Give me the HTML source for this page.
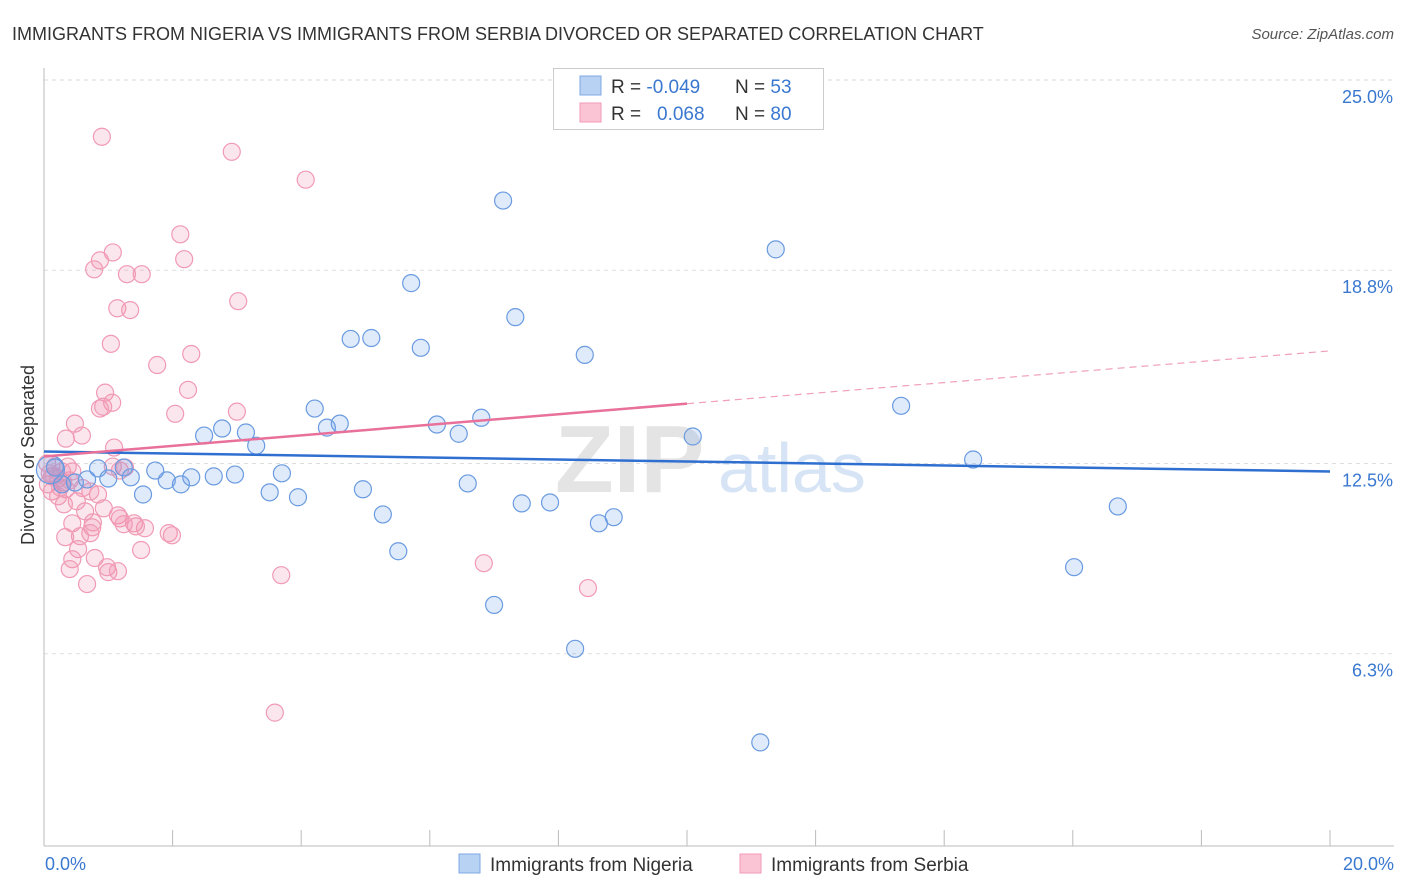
<!DOCTYPE html>
<html><head><meta charset="utf-8"><style>
body{margin:0;background:#fff;font-family:"Liberation Sans",sans-serif;}
svg{display:block}
</style></head><body>
<svg id="chart" width="1406" height="892" xmlns="http://www.w3.org/2000/svg">
<text x="12" y="40" font-size="18" fill="#333">IMMIGRANTS FROM NIGERIA VS IMMIGRANTS FROM SERBIA DIVORCED OR SEPARATED CORRELATION CHART</text>
<text x="1394" y="39" font-size="15" fill="#555" text-anchor="end" font-style="italic">Source: ZipAtlas.com</text>
<text x="555" y="492" font-size="96" fill="#e4e4e4" font-weight="bold">ZIP</text>
<text x="718" y="492" font-size="70" fill="#d6e4f5">atlas</text>
<g id="grid"></g>
<g id="axes"></g>
<g id="pts"></g>
<g id="trend"></g>
<text transform="translate(34,455) rotate(-90)" font-size="18" fill="#333" text-anchor="middle">Divorced or Separated</text>
<text x="45" y="870" font-size="18" fill="#3a78d0">0.0%</text>
<text x="1394" y="870" font-size="18" fill="#3a78d0" text-anchor="end">20.0%</text>
<g>
<rect x="553.5" y="68.5" width="270" height="61" fill="#fff" stroke="#ccc"/>
<rect x="580" y="76" width="21" height="19" fill="#b8d2f3" stroke="#7ea8e3"/>
<rect x="580" y="103" width="21" height="19" fill="#fbc4d4" stroke="#f09ab5"/>
<text x="611" y="93" font-size="19" fill="#333">R = <tspan fill="#3a78d0">-0.049</tspan><tspan x="735">N = </tspan><tspan fill="#3a78d0">53</tspan></text>
<text x="611" y="120" font-size="19" fill="#333">R = <tspan x="657" fill="#3a78d0">0.068</tspan><tspan x="735">N = </tspan><tspan fill="#3a78d0">80</tspan></text>
</g>
<g>
<rect x="459" y="854" width="21" height="19" fill="#b8d2f3" stroke="#7ea8e3"/>
<text x="490" y="871" font-size="19" fill="#333">Immigrants from Nigeria</text>
<rect x="740" y="854" width="21" height="19" fill="#fbc4d4" stroke="#f09ab5"/>
<text x="771" y="871" font-size="19" fill="#333">Immigrants from Serbia</text>
</g>
</svg>
<script>
const yTicks=[25.0,18.8,12.5,6.3];
const yTickLabels=["25.0%","18.8%","12.5%","6.3%"];
const xTicks=[0,2,4,6,8,10,12,14,16,18,20];
const nigeriaX=[7.14,11.38,5.71,7.33,4.77,5.09,5.86,8.41,13.33,4.21,6.80,6.11,6.45,4.40,4.60,2.77,3.14,2.49,3.30,10.09,14.45,0.84,1.24,1.73,1.00,1.35,1.91,2.13,2.29,2.64,2.97,3.70,0.67,0.48,0.28,0.17,1.54,3.51,3.95,4.96,6.59,7.43,7.87,16.70,5.27,8.86,8.63,5.51,16.02,7.00,8.26,11.14,0.10];
const nigeriaY=[21.07,19.48,18.38,17.27,16.56,16.59,16.27,16.04,14.38,14.29,13.99,13.77,13.47,13.67,13.80,13.64,13.51,13.41,13.08,13.38,12.63,12.34,12.37,12.27,12.01,12.05,11.95,11.82,12.05,12.08,12.14,12.18,11.98,11.88,11.82,12.37,11.49,11.56,11.40,11.66,11.85,11.20,11.23,11.10,10.84,10.75,10.55,9.64,9.12,7.89,6.46,3.41,12.30];
const serbiaX=[0.90,2.92,4.07,2.12,2.18,1.07,0.87,0.78,1.29,1.52,3.02,1.14,1.34,1.04,2.29,1.76,2.24,0.95,1.06,0.92,0.87,2.04,3.00,0.48,0.59,0.34,1.09,0.05,0.17,0.37,0.44,0.12,0.22,0.30,0.06,0.34,0.12,0.84,0.22,0.51,0.31,1.07,1.18,1.26,0.93,0.44,0.75,0.76,1.15,1.18,1.40,1.57,1.24,1.43,0.72,0.56,0.33,0.53,0.79,0.44,0.98,0.40,1.00,1.15,0.67,1.51,1.94,1.99,3.69,6.84,8.46,3.59,0.09,0.25,0.64,0.28,0.72,0.15,0.40,0.60];
const serbiaY=[23.15,22.66,21.75,19.97,19.16,19.38,19.12,18.83,18.67,18.67,17.79,17.56,17.50,16.40,16.07,15.71,14.90,14.81,14.48,14.35,14.29,14.12,14.19,13.80,13.41,13.31,13.02,12.50,12.40,12.40,12.24,12.08,12.01,11.88,11.82,11.66,11.59,11.49,11.43,11.27,11.17,12.40,12.27,12.37,11.04,10.55,10.42,10.58,10.81,10.71,10.55,10.39,10.52,10.45,10.23,10.13,10.10,9.71,9.42,9.38,9.12,9.06,8.96,8.99,8.57,9.68,10.23,10.16,8.86,9.25,8.44,4.38,12.18,11.72,10.94,12.24,11.59,12.10,11.95,11.70];
const nigeriaTrend=[12.89,12.24];
const serbiaTrend=[12.73,16.17];
const serbiaSolidEnd=10.0;
const X0=44,X1=1330,Y0=847,PY=30.68;
const sx=v=>X0+(X1-X0)*v/20;
const sy=v=>Y0-v*PY;
const NS="http://www.w3.org/2000/svg";
function mk(t,a,p){const e=document.createElementNS(NS,t);for(const k in a)e.setAttribute(k,a[k]);p.appendChild(e);return e;}
const grid=document.getElementById('grid'),axes=document.getElementById('axes'),pts=document.getElementById('pts'),tr=document.getElementById('trend');
yTicks.forEach((v,i)=>{
 const l=mk('line',{x1:X0,x2:1394,y1:sy(v),y2:sy(v),stroke:'#ddd','stroke-dasharray':'4,4'},grid);
 
 
 const t=mk('text',{x:1393,y:sy(v)+23,'font-size':18,fill:'#3a78d0','text-anchor':'end'},grid);
 t.textContent=yTickLabels[i];
 
 
});
const ya=mk('line',{x1:X0,x2:X0,y1:68,y2:846,stroke:'#bbb'},axes);


const xa=mk('line',{x1:X0,x2:1394,y1:846,y2:846,stroke:'#bbb'},axes);


xTicks.forEach(v=>{
 const t=mk('line',{x1:sx(v),x2:sx(v),y1:830,y2:846,stroke:'#bbb'},axes);
 
 
});
serbiaX.forEach((v,i)=>{
 const c=mk('circle',{cx:sx(v),cy:sy(serbiaY[i]),r:8.5,fill:'rgba(242,140,175,0.22)',stroke:'#f09ab5','stroke-width':1.2},pts);
 
 
});
nigeriaX.forEach((v,i)=>{
 const c=mk('circle',{cx:sx(v),cy:sy(nigeriaY[i]),r:i==nigeriaX.length-1?14:8.5,fill:'rgba(110,160,230,0.22)',stroke:'#6a9be0','stroke-width':1.2},pts);
 
 
});
const bl=mk('line',{x1:sx(0),y1:sy(nigeriaTrend[0]),x2:sx(20),y2:sy(nigeriaTrend[1]),stroke:'#2f6fd0','stroke-width':2.5},tr);


const pm=serbiaTrend[0]+(serbiaTrend[1]-serbiaTrend[0])*serbiaSolidEnd/20;
const pl=mk('line',{x1:sx(0),y1:sy(serbiaTrend[0]),x2:sx(serbiaSolidEnd),y2:sy(pm),stroke:'#e8709a','stroke-width':2.5},tr);


const pd=mk('line',{x1:sx(serbiaSolidEnd),y1:sy(pm),x2:sx(20),y2:sy(serbiaTrend[1]),stroke:'#f0a0bb','stroke-width':1.2,'stroke-dasharray':'7,5'},tr);


</script>
</body></html>
